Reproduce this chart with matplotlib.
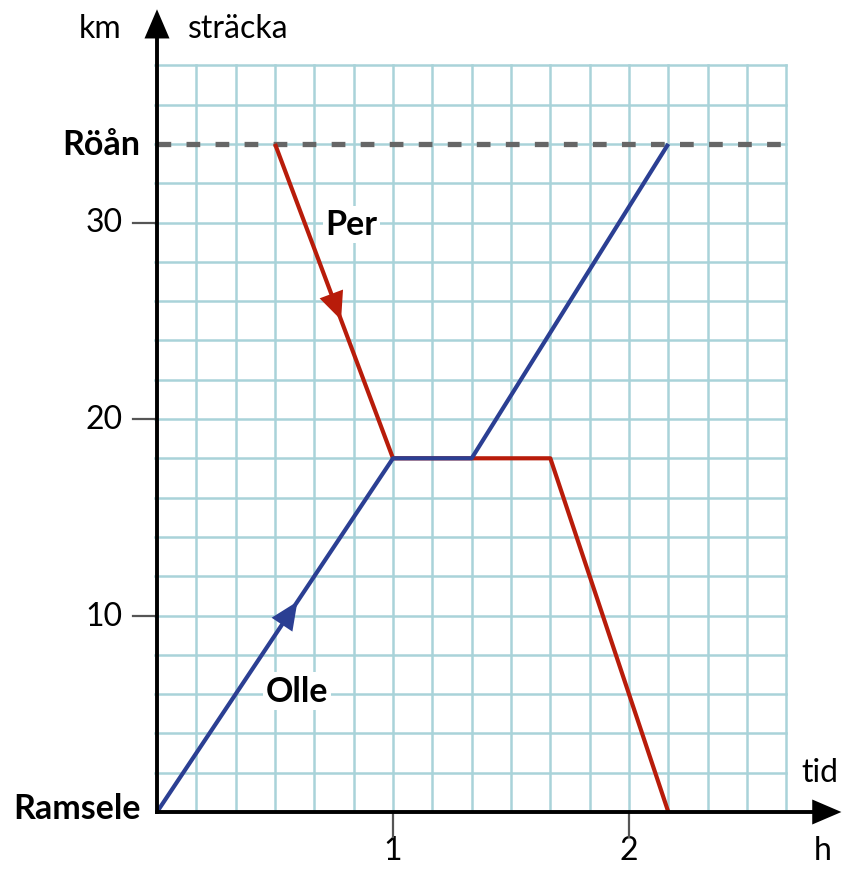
import matplotlib.pyplot as plt
import numpy as np

plt.rcParams['font.family'] = ['Lato', 'DejaVu Sans']

# Olle and Per, time in minutes and distance in km
olle_min = [0, 60, 80, 130]
olle_km = [0, 18, 18, 34]
per_min = [30, 60, 100, 130]
per_km = [34, 18, 18, 0]

roan_km = 34
y_ticks = [10, 20, 30]
x_ticks = [1, 2]

olle_t = np.array(olle_min) / 60
per_t = np.array(per_min) / 60

blue = '#2b3f93'
red = '#b81c0a'
grid_col = '#a9d3d9'

fig = plt.figure(figsize=(8.42, 8.70), dpi=100)
ax = fig.add_axes([157/842, 57/870, 685/842, 803/870])
xmax = 685/236
ymax = 803/19.65
ax.set_xlim(0, xmax)
ax.set_ylim(0, ymax)
ax.axis('off')

# grid: 10 min x 2 km
gx = np.arange(1, 17) / 6
gy = np.arange(2, 39, 2)
for x in gx:
    ax.plot([x, x], [0, 38], color=grid_col, lw=1.8, zorder=1)
for y in gy:
    ax.plot([-0.01, 16/6], [y, y], color=grid_col, lw=1.8, zorder=1, clip_on=False)

# Röån dashed line
ax.plot([0, 2.65], [roan_km, roan_km], color='#666666', lw=3.8,
        dashes=(2.6, 2.9), zorder=2)

# journeys
ax.plot(olle_t, olle_km, color=blue, lw=3.0, zorder=4, solid_capstyle='butt')
ax.plot(per_t, per_km, color=red, lw=3.0, zorder=3, solid_capstyle='butt')

# direction arrows
def dir_arrow(t_tip, seg, color):
    x0, x1, y0, y1 = seg
    slope = (y1 - y0) / (x1 - x0)
    y_tip = y0 + slope * (t_tip - x0)
    dt = -0.06 if x1 > x0 and y1 > y0 else -0.03
    ax.annotate('', xy=(t_tip, y_tip), xytext=(t_tip + dt, y_tip + slope * dt),
                arrowprops=dict(arrowstyle='-|>,head_length=2.0,head_width=0.9',
                                color=color, lw=0, shrinkA=0, shrinkB=0),
                zorder=5)

dir_arrow(0.595, (0, 1, 0, 18), blue)
dir_arrow(0.78, (0.5, 1, 34, 18), red)

# axes with arrowheads
ax.plot([0, 0], [0, 39.8], color='black', lw=2.8, zorder=6, clip_on=False)
ax.plot([0, 2.8], [0, 0], color='black', lw=2.8, zorder=6, clip_on=False)
ax.annotate('', xy=(0, 40.85), xytext=(0, 38.0),
            arrowprops=dict(arrowstyle='-|>,head_length=2.1,head_width=0.9',
                            color='black', lw=0, shrinkA=0, shrinkB=0),
            zorder=7, annotation_clip=False)
ax.annotate('', xy=(2.9, 0), xytext=(2.7, 0),
            arrowprops=dict(arrowstyle='-|>,head_length=2.1,head_width=0.9',
                            color='black', lw=0, shrinkA=0, shrinkB=0),
            zorder=7, annotation_clip=False)

# ticks
for y in y_ticks:
    ax.plot([-0.1, 0], [y, y], color='#555555', lw=1.6, clip_on=False, zorder=5)
    ax.text(-0.145, y, str(y), ha='right', va='center', fontsize=23)
for x in x_ticks:
    ax.plot([x, x], [0, -1.25], color='#555555', lw=1.6, clip_on=False, zorder=5)
    ax.text(x, -1.95, str(x), ha='center', va='center', fontsize=23)

# labels
ax.text(-0.07, roan_km, 'Röån', ha='right', va='center', fontsize=24.5, fontweight='bold')
ax.text(-0.07, 0.2, 'Ramsele', ha='right', va='center', fontsize=24.5, fontweight='bold')
ax.text(0.825, 29.9, 'Per', ha='center', va='center', fontsize=24.5, fontweight='bold',
        bbox=dict(facecolor='white', edgecolor='none', pad=2), zorder=5)
ax.text(0.593, 6.15, 'Olle', ha='center', va='center', fontsize=24.5, fontweight='bold',
        bbox=dict(facecolor='white', edgecolor='none', pad=2), zorder=5)
ax.text(-0.24, 39.9, 'km', ha='center', va='center', fontsize=23)
ax.text(0.13, 39.9, 'sträcka', ha='left', va='center', fontsize=23)
ax.text(2.81, 2.03, 'tid', ha='center', va='center', fontsize=23)
ax.text(2.82, -1.95, 'h', ha='center', va='center', fontsize=23)

fig.savefig('out.png', dpi=100)
